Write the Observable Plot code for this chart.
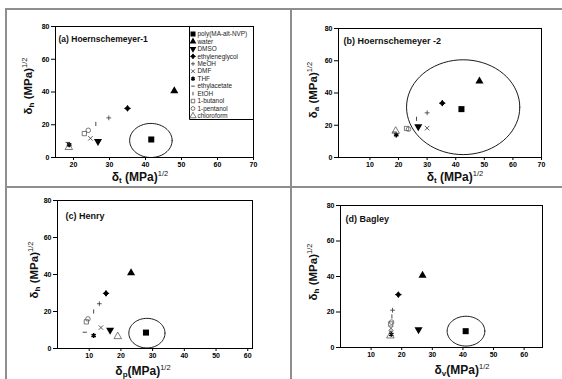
<!DOCTYPE html>
<html><head><meta charset="utf-8">
<script src="https://cdn.jsdelivr.net/npm/d3@7"></script>
<script src="https://cdn.jsdelivr.net/npm/@observablehq/plot@0.6"></script>
<style>
body{margin:0;background:#fff;}
#wrap{position:relative;width:562px;height:379px;overflow:hidden;font-family:"Liberation Sans",Arial,sans-serif;color:#000;}
.rule{position:absolute;background:#8e8e8e;}
.panel{position:absolute;}
.lab{position:absolute;font-weight:bold;font-size:12px;white-space:nowrap;line-height:1;transform:translate(-50%,-50%);color:#111;}
.lab.y{transform:translate(-50%,-50%) rotate(-90deg);font-size:11.5px;}
.lab sub{font-size:8px;vertical-align:-2px;line-height:0;}
.lab sup{font-size:7.5px;vertical-align:5px;line-height:0;font-weight:normal;}
#legend{position:absolute;}
</style></head>
<body><div id="wrap"></div>
<script>
// ---------- data ----------
const solvents = ["poly(MA-alt-NVP)","water","DMSO","ethyleneglycol","MeOH","DMF","THF","ethylacetate","EtOH","1-butanol","1-pentanol","chloroform"];
// (a) Hoernschemeyer-1: delta_t vs delta_h
const tA = [41.6, 48.0, 26.8, 35.0, 29.8, 24.7, 18.8, 18.4, 26.2, 23.0, 24.1, 18.7];
const hA = [11.0, 40.6, 9.8, 30.0, 24.2, 11.7, 7.8, 9.2, 20.5, 14.6, 16.6, 6.2];
// (b) Hoernschemeyer-2: delta_t vs delta_a
const tB = [42.0, 48.3, 26.9, 35.3, 30.0, 30.0, 19.2, 18.6, 26.3, 22.8, 23.5, 19.0];
const aB = [30.0, 47.3, 19.2, 33.7, 27.7, 18.2, 14.0, 15.8, 24.0, 18.0, 17.6, 16.4];
// (c) Henry: delta_p vs delta_h
const pC = [27.9, 23.2, 16.6, 15.3, 13.2, 13.7, 11.4, 8.6, 11.4, 9.1, 9.6, 19.0];
const hC = [8.6, 40.9, 10.0, 29.8, 24.2, 11.3, 7.0, 8.8, 20.0, 14.4, 16.0, 6.5];
// (d) Bagley: delta_v vs delta_h
const vD = [40.9, 26.8, 25.5, 18.9, 17.0, 16.5, 16.6, 16.5, 16.8, 16.4, 16.7, 16.3];
const hD = [9.2, 40.6, 10.1, 29.8, 21.0, 10.8, 7.4, 9.2, 17.5, 13.3, 14.3, 6.6];
// circled region of each panel: [cx, cy, rx, ry] in data units
const ellA = [41.5, 10.4, 5.9, 10.4];
const ellB = [42.6, 31.2, 19.8, 29.4];
const ellC = [28.2, 8.3, 5.7, 8.0];
const ellD = [41.0, 9.2, 6.15, 8.4];
// ticks
const yTicks = [0, 20, 40, 60, 80];
const xTicksA = [20, 30, 40, 50, 60, 70];
const xTicksB = [10, 20, 30, 40, 50, 60, 70];
const xTicksC = [10, 20, 30, 40, 50, 60];
const xTicksD = [10, 20, 30, 40, 50, 60];
const titles = ["(a) Hoernschemeyer-1", "(b) Hoernschemeyer -2", "(c) Henry", "(d) Bagley"];

// ---------- symbols ----------
const triDown = {draw(c, size){ const y = -Math.sqrt(size / (Math.sqrt(3) * 3)); c.moveTo(0, -y*2); c.lineTo(-Math.sqrt(3)*y, y); c.lineTo(Math.sqrt(3)*y, y); c.closePath(); }};
const diamond = {draw(c, size){ const r = Math.sqrt(size/Math.PI); c.moveTo(0,-r); c.lineTo(r*0.95,0); c.lineTo(0,r); c.lineTo(-r*0.95,0); c.closePath(); c.moveTo(-r*1.2,0); c.lineTo(r*1.2,0); c.moveTo(0,-r*1.2); c.lineTo(0,r*1.2); }};
const plus = {draw(c, size){ const r = Math.sqrt(size/Math.PI); c.moveTo(-r,0); c.lineTo(r,0); c.moveTo(0,-r); c.lineTo(0,r); }};
const times = {draw(c, size){ const r = Math.sqrt(size/Math.PI)*0.8; c.moveTo(-r,-r); c.lineTo(r,r); c.moveTo(-r,r); c.lineTo(r,-r); }};
const hbar = {draw(c, size){ const r = Math.sqrt(size/Math.PI); c.moveTo(-r,0); c.lineTo(r,0); }};
const vbar = {draw(c, size){ const r = Math.sqrt(size/Math.PI); c.moveTo(0,-r); c.lineTo(0,r); }};
const star = {draw(c, size){ const r = Math.sqrt(size/Math.PI); for (let k=0;k<3;k++){ const a = Math.PI/3*k + Math.PI/2; c.moveTo(-r*Math.cos(a), -r*Math.sin(a)); c.lineTo(r*Math.cos(a), r*Math.sin(a)); } }};
const markerStyle = {
  "poly(MA-alt-NVP)": {symbol: d3.symbolSquare, fill: "#000", stroke: "none", r: 3.4},
  "water": {symbol: d3.symbolTriangle, fill: "#000", stroke: "none", r: 3.0},
  "DMSO": {symbol: triDown, fill: "#000", stroke: "none", r: 3.0},
  "ethyleneglycol": {symbol: diamond, fill: "#000", stroke: "#000", r: 2.6, strokeWidth: 0.9},
  "MeOH": {symbol: plus, fill: "none", stroke: "#333", r: 2.4, strokeWidth: 0.8},
  "DMF": {symbol: times, fill: "none", stroke: "#333", r: 2.8, strokeWidth: 0.8},
  "THF": {symbol: star, fill: "none", stroke: "#000", r: 2.5, strokeWidth: 1.5},
  "ethylacetate": {symbol: hbar, fill: "none", stroke: "#333", r: 2.1, strokeWidth: 0.9},
  "EtOH": {symbol: vbar, fill: "none", stroke: "#333", r: 2.1, strokeWidth: 0.9},
  "1-butanol": {symbol: d3.symbolSquare, fill: "none", stroke: "#444", r: 2.4, strokeWidth: 0.7},
  "1-pentanol": {symbol: d3.symbolCircle, fill: "none", stroke: "#444", r: 2.3, strokeWidth: 0.7},
  "chloroform": {symbol: d3.symbolTriangle, fill: "none", stroke: "#444", r: 2.8, strokeWidth: 0.7}
};

const wrap = document.getElementById("wrap");
function rule(l, t, w, h){ const d = document.createElement("div"); d.className = "rule"; Object.assign(d.style, {left:l+"px", top:t+"px", width:w+"px", height:h+"px"}); wrap.appendChild(d); }
rule(5, 8, 557, 2); rule(5, 8, 2, 371); rule(5, 186, 557, 2); rule(290, 8, 2, 371);

function ellipsePts(e){ const pts = []; for (let k = 0; k <= 72; k++){ const a = k/72*2*Math.PI; pts.push({x: e[0] + e[2]*Math.cos(a), y: e[1] + e[3]*Math.sin(a)}); } return pts; }

function panel(cfg){
  const rows = solvents.map((s, i) => ({s, x: cfg.xs[i], y: cfg.ys[i]}));
  const marks = [
    Plot.frame({stroke: "#000", strokeWidth: 1}),
    Plot.line(ellipsePts(cfg.ell), {x: "x", y: "y", stroke: "#000", strokeWidth: 0.9, curve: "linear"}),
    Plot.text([cfg.title], {frameAnchor: "top-left", dx: cfg.tdx, dy: cfg.tdy, textAnchor: "start", fontWeight: "bold", fontSize: cfg.tfs, fill: "#111"})
  ];
  for (const s of solvents){
    const st = markerStyle[s];
    marks.push(Plot.dot(rows.filter(d => d.s === s), {x: "x", y: "y", symbol: st.symbol, r: st.r, fill: st.fill, stroke: st.stroke, strokeWidth: st.strokeWidth || 1}));
  }
  const svg = Plot.plot({
    width: cfg.w, height: cfg.h,
    marginLeft: cfg.ml, marginRight: cfg.mr, marginTop: cfg.mt, marginBottom: cfg.mb,
    x: {domain: cfg.xDomain, ticks: cfg.xTicks, tickSize: 3, tickPadding: 2, label: null},
    y: {domain: [0, 80], ticks: yTicks, tickSize: 4, tickPadding: 2, label: null},
    style: {fontFamily: "'Liberation Sans', Arial, sans-serif", fontSize: "7px", fontWeight: "bold", background: "transparent", color: "#000", overflow: "visible"},
    marks
  });
  const box = document.createElement("div");
  box.className = "panel";
  box.style.left = cfg.left + "px"; box.style.top = cfg.top + "px";
  box.appendChild(svg);
  wrap.appendChild(box);
}

panel({left: 0, top: 0, w: 281, h: 188, ml: 55, mr: 28, mt: 26, mb: 31, xDomain: [15, 70], xTicks: xTicksA, xs: tA, ys: hA, ell: ellA, title: titles[0], tdx: 3, tdy: 9, tfs: 8.5});
panel({left: 290, top: 0, w: 272, h: 188, ml: 48, mr: 21, mt: 28, mb: 31, xDomain: [-1, 70], xTicks: xTicksB, xs: tB, ys: aB, ell: ellB, title: titles[1], tdx: 5, tdy: 9, tfs: 9});
panel({left: 0, top: 188, w: 290, h: 191, ml: 57, mr: 38, mt: 12, mb: 31, xDomain: [0, 61.5], xTicks: xTicksC, xs: pC, ys: hC, ell: ellC, title: titles[2], tdx: 8, tdy: 12, tfs: 9});
panel({left: 290, top: 188, w: 272, h: 191, ml: 50, mr: 20, mt: 17, mb: 32, xDomain: [0, 66], xTicks: xTicksD, xs: vD, ys: hD, ell: ellD, title: titles[3], tdx: 5, tdy: 10, tfs: 9});

// axis labels
const labels = [
  {html: "δ<sub>t</sub> (MPa)<sup>1/2</sup>", x: 140, y: 177},
  {html: "δ<sub>h</sub> (MPa)<sup>1/2</sup>", x: 29, y: 86, rot: true},
  {html: "δ<sub>t</sub> (MPa)<sup>1/2</sup>", x: 455, y: 177},
  {html: "δ<sub>a</sub> (MPa)<sup>1/2</sup>", x: 314, y: 90, rot: true},
  {html: "δ<sub>p</sub>(MPa)<sup>1/2</sup>", x: 143, y: 371},
  {html: "δ<sub>h</sub> (MPa)<sup>1/2</sup>", x: 35, y: 270, rot: true},
  {html: "δ<sub>v</sub>(MPa)<sup>1/2</sup>", x: 462, y: 370},
  {html: "δ<sub>h</sub> (MPa)<sup>1/2</sup>", x: 314, y: 272, rot: true}
];
for (const l of labels){ const d = document.createElement("div"); d.className = "lab" + (l.rot ? " y" : ""); d.innerHTML = l.html; d.style.left = l.x + "px"; d.style.top = l.y + "px"; wrap.appendChild(d); }

// legend of panel (a)
const lg = d3.create("svg").attr("id", "legend").attr("width", 65).attr("height", 94)
  .style("left", "189px").style("top", "26px").style("position", "absolute");
lg.append("path").attr("d", "M0.5,0 V93.5 H65").attr("fill", "none").attr("stroke", "#000");
solvents.forEach((s, i) => {
  const st = markerStyle[s];
  const g = lg.append("g").attr("transform", `translate(4,${8 + i*7.45})`);
  g.append("path").attr("d", d3.symbol(st.symbol, st.r*st.r*Math.PI*0.7)()).attr("fill", st.fill).attr("stroke", st.stroke).attr("stroke-width", st.strokeWidth || 1);
  g.append("text").attr("x", 4.5).attr("y", 2.2).attr("font-size", 6.4).attr("font-family", "'Liberation Sans', Arial, sans-serif").attr("fill", "#222").text(s);
});
wrap.appendChild(lg.node());
</script></body></html>
